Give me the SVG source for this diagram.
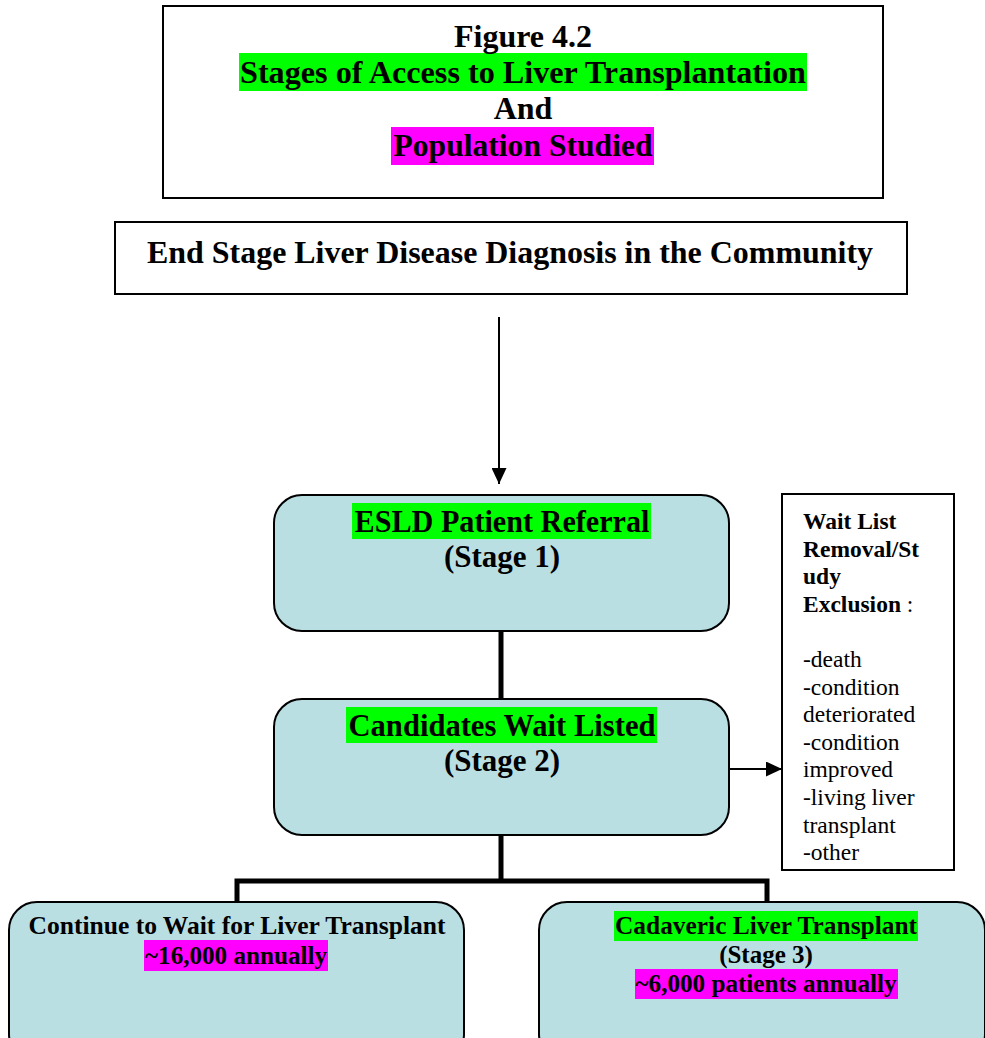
<svg xmlns="http://www.w3.org/2000/svg" width="985" height="1038" viewBox="0 0 985 1038">
<style>
.box{fill:#ffffff;stroke:#000;stroke-width:2}
.stage{fill:#b9dfe3;stroke:#000;stroke-width:2}
.t{font-family:'Liberation Serif','Times New Roman',Times,serif;font-weight:700;fill:#000;text-anchor:middle}
.s{font-family:'Liberation Serif','Times New Roman',Times,serif;fill:#000;font-size:23.5px}
.g{fill:#00ff00}
.m{fill:#ff00ff}
.thin{stroke:#000;stroke-width:2;fill:none}
.thick{stroke:#000;stroke-width:5;fill:none}
</style>
<defs>
<marker id="ah" markerWidth="16" markerHeight="15" refX="16" refY="7.5" orient="auto" markerUnits="userSpaceOnUse">
<path d="M0,0 L16,7.5 L0,15 Z" fill="#000"/>
</marker>
</defs>
<rect width="985" height="1038" fill="#fff"/>

<g id="title">
<rect class="box" x="163" y="6" width="720" height="192"/>
<rect class="g" x="239" y="53" width="568" height="38"/>
<rect class="m" x="391" y="127" width="263" height="38"/>
<text class="t" x="523" y="47" font-size="32">Figure 4.2</text>
<text class="t" x="523" y="83" font-size="32" textLength="566" lengthAdjust="spacingAndGlyphs">Stages of Access to Liver Transplantation</text>
<text class="t" x="523" y="119" font-size="32">And</text>
<text class="t" x="523" y="156" font-size="32" textLength="259" lengthAdjust="spacingAndGlyphs">Population Studied</text>
</g>

<g id="community">
<rect class="box" x="115" y="222" width="792" height="72"/>
<text class="t" x="510" y="263" font-size="32" textLength="726" lengthAdjust="spacingAndGlyphs">End Stage Liver Disease Diagnosis in the Community</text>
</g>

<g id="connectors">
<line class="thin" x1="499" y1="317" x2="499" y2="484" marker-end="url(#ah)"/>
<line class="thick" x1="501" y1="631" x2="501" y2="700"/>
<line class="thin" x1="729" y1="769" x2="782" y2="769" marker-end="url(#ah)"/>
<polyline class="thick" points="501,835 501,881"/>
<polyline class="thick" points="237,903 237,881 767,881 767,903"/>
</g>

<g id="stage1">
<rect class="stage" x="274" y="495" width="455" height="136" rx="28"/>
<rect class="g" x="352" y="503" width="299" height="36"/>
<text class="t" x="502" y="532" font-size="31" textLength="295" lengthAdjust="spacingAndGlyphs">ESLD Patient Referral</text>
<text class="t" x="502" y="567" font-size="31">(Stage 1)</text>
</g>

<g id="stage2">
<rect class="stage" x="274" y="699" width="455" height="136" rx="28"/>
<rect class="g" x="346" y="707" width="311" height="36"/>
<text class="t" x="502" y="736" font-size="31" textLength="307" lengthAdjust="spacingAndGlyphs">Candidates Wait Listed</text>
<text class="t" x="502" y="771" font-size="31">(Stage 2)</text>
</g>

<g id="exclusion">
<rect class="box" x="782" y="494" width="172" height="376"/>
<text class="s" font-weight="bold" x="803" y="529">Wait List</text>
<text class="s" font-weight="bold" x="803" y="556.6">Removal/St</text>
<text class="s" font-weight="bold" x="803" y="584.2">udy</text>
<text class="s" x="803" y="611.8"><tspan font-weight="bold">Exclusion</tspan> :</text>
<text class="s" x="803" y="667">-death</text>
<text class="s" x="803" y="694.6">-condition</text>
<text class="s" x="803" y="722.2">deteriorated</text>
<text class="s" x="803" y="749.8">-condition</text>
<text class="s" x="803" y="777.4">improved</text>
<text class="s" x="803" y="805">-living liver</text>
<text class="s" x="803" y="832.6">transplant</text>
<text class="s" x="803" y="860.2">-other</text>
</g>

<g id="continue">
<rect class="stage" x="9" y="902" width="455" height="160" rx="28"/>
<rect class="m" x="144" y="940" width="184" height="31"/>
<text class="t" x="237" y="934" font-size="25" textLength="417" lengthAdjust="spacingAndGlyphs">Continue to Wait for Liver Transplant</text>
<text class="t" x="236" y="964" font-size="25" textLength="182" lengthAdjust="spacingAndGlyphs">~16,000 annually</text>
</g>

<g id="stage3">
<rect class="stage" x="539" y="902" width="446" height="160" rx="28"/>
<rect class="g" x="614" y="911" width="304" height="30"/>
<rect class="m" x="635" y="969" width="263" height="30"/>
<text class="t" x="766" y="934" font-size="25" textLength="302" lengthAdjust="spacingAndGlyphs">Cadaveric Liver Transplant</text>
<text class="t" x="766" y="963" font-size="25">(Stage 3)</text>
<text class="t" x="766" y="992" font-size="25" textLength="261" lengthAdjust="spacingAndGlyphs">~6,000 patients annually</text>
</g>
</svg>
